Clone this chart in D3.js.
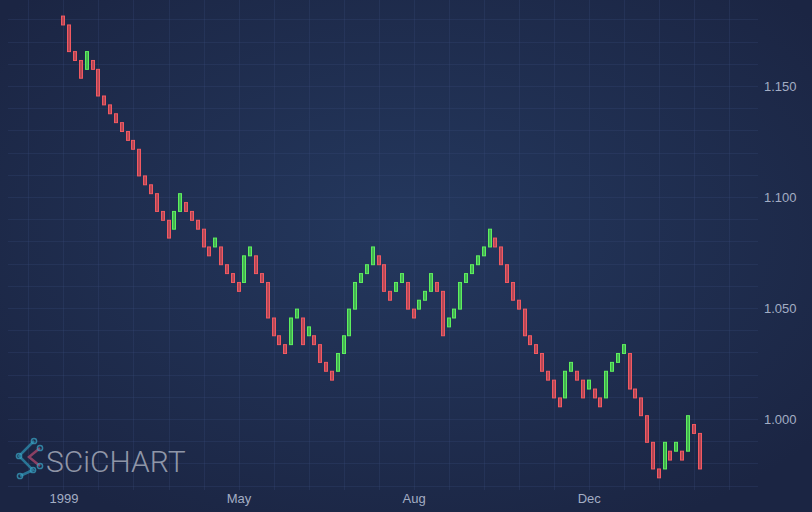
<!DOCTYPE html>
<html><head><meta charset="utf-8">
<script src="https://cdn.jsdelivr.net/npm/d3@7"></script>
<style>html,body{margin:0;padding:0;background:#1c2847;overflow:hidden}svg{display:block}</style>
</head><body>
<svg id="chart" width="812" height="512"></svg>
<script>
// ---- data ----
const opens = [1.1815,1.1775,1.1655,1.1615,1.1575,1.1615,1.1575,1.1455,1.1415,1.1375,
1.1335,1.1295,1.1255,1.1215,1.1095,1.1055,1.1015,1.0935,1.0895,1.0855,
1.0935,1.0975,1.0935,1.0895,1.0855,1.0775,1.0775,1.0775,1.0695,1.0655,
1.0615,1.0615,1.0735,1.0735,1.0655,1.0615,1.0455,1.0375,1.0335,1.0335,
1.0455,1.0455,1.0375,1.0375,1.0335,1.0255,1.0215,1.0215,1.0295,1.0375,
1.0495,1.0615,1.0655,1.0695,1.0735,1.0695,1.0575,1.0575,1.0615,1.0615,
1.0495,1.0495,1.0535,1.0575,1.0615,1.0575,1.0415,1.0455,1.0495,1.0615,
1.0655,1.0695,1.0735,1.0775,1.0815,1.0775,1.0695,1.0615,1.0535,1.0495,
1.0375,1.0335,1.0295,1.0215,1.0175,1.0095,1.0095,1.0215,1.0215,1.0175,
1.0135,1.0135,1.0095,1.0095,1.0215,1.0255,1.0295,1.0295,1.0135,1.0095,
1.0015,0.9895,0.9775,0.9775,0.9855,0.9855,0.9855,0.9855,0.9975,0.9935];
const closes = [1.1775,1.1655,1.1615,1.1535,1.1655,1.1575,1.1455,1.1415,1.1375,1.1335,
1.1295,1.1255,1.1215,1.1095,1.1055,1.1015,1.0935,1.0895,1.0815,1.0935,
1.1015,1.0935,1.0895,1.0855,1.0775,1.0735,1.0815,1.0695,1.0655,1.0615,
1.0575,1.0735,1.0775,1.0655,1.0615,1.0455,1.0375,1.0335,1.0295,1.0455,
1.0495,1.0335,1.0415,1.0335,1.0255,1.0215,1.0175,1.0295,1.0375,1.0495,
1.0615,1.0655,1.0695,1.0775,1.0695,1.0575,1.0535,1.0615,1.0655,1.0495,
1.0455,1.0535,1.0575,1.0655,1.0575,1.0375,1.0455,1.0495,1.0615,1.0655,
1.0695,1.0735,1.0775,1.0855,1.0775,1.0695,1.0615,1.0535,1.0495,1.0375,
1.0335,1.0295,1.0215,1.0175,1.0095,1.0055,1.0215,1.0255,1.0175,1.0095,
1.0175,1.0095,1.0055,1.0215,1.0255,1.0295,1.0335,1.0135,1.0095,1.0015,
0.9895,0.9775,0.9735,0.9895,0.9815,0.9895,0.9815,1.0015,0.9935,0.9775];
const xTickIndex = [0, 30, 60, 90];
const xTickLabels = ["1999", "May", "Aug", "Dec"];
const yTickValues = [1.000, 1.050, 1.100, 1.150];

// ---- layout ----
const W = 812, H = 512;
const plot = {left: 8, right: 758, top: 0, bottom: 490};
const svg = d3.select("#chart");

const defs = svg.append("defs");
const rg = defs.append("radialGradient").attr("id","bg")
  .attr("cx","50%").attr("cy","45%").attr("r","65%");
rg.append("stop").attr("offset","0%").attr("stop-color","#24385e");
rg.append("stop").attr("offset","100%").attr("stop-color","#1b2543");
defs.append("clipPath").attr("id","clip").append("rect")
  .attr("x",plot.left).attr("y",plot.top)
  .attr("width",plot.right-plot.left).attr("height",plot.bottom-plot.top);

svg.append("rect").attr("width",W).attr("height",H).attr("fill","url(#bg)");

const x = d3.scaleLinear().domain([-9.5, 119]).range([plot.left, plot.right]);
const y = d3.scaleLinear().domain([1.000, 1.150]).range([419, 86]);

// ---- grid ----
const grid = svg.append("g").attr("clip-path","url(#clip)");
const yMinor = d3.range(0.97, 1.19, 0.01).map(v => +v.toFixed(3));
grid.selectAll("line.hy").data(yMinor).join("line")
  .attr("x1",plot.left).attr("x2",plot.right)
  .attr("y1",d=>Math.round(y(d))+0.5).attr("y2",d=>Math.round(y(d))+0.5)
  .attr("stroke","#3a4d7a").attr("stroke-opacity",0.28).attr("stroke-width",1);
const xMinor = d3.range(-6, 120, 6);
grid.selectAll("line.vx").data(xMinor).join("line")
  .attr("y1",plot.top).attr("y2",plot.bottom)
  .attr("x1",d=>Math.round(x(d))+0.5).attr("x2",d=>Math.round(x(d))+0.5)
  .attr("stroke","#3a4d7a").attr("stroke-opacity",0.28).attr("stroke-width",1);

// ---- watermark ----
const wm = svg.append("g");
wm.append("polyline").attr("points","34,441 19,456 33,470 20,476")
  .attr("fill","none").attr("stroke","#2f8fb0").attr("stroke-width",2.5).attr("opacity",0.75);
wm.append("polyline").attr("points","40,448 29,457 40,466")
  .attr("fill","none").attr("stroke","#b04a6e").attr("stroke-width",2.5).attr("opacity",0.75);
[[34,441],[19,456],[33,470],[20,476],[40,448],[40,466]].forEach(p=>{
  wm.append("circle").attr("cx",p[0]).attr("cy",p[1]).attr("r",2.6)
    .attr("fill","none").attr("stroke","#3aa0c0").attr("stroke-width",1.5).attr("opacity",0.75);
});
wm.append("text").attr("x",46).attr("y",472).text("SCiCHART")
  .attr("font-family","Roboto, 'Liberation Sans', Arial, sans-serif")
  .attr("font-size",30).attr("font-weight",300)
  .attr("fill","#c4c8d4").attr("fill-opacity",0.7);

// ---- bars ----
const data = opens.map((o,i)=>({i, o, c: closes[i]}));
const bw = 3;
svg.append("g").attr("clip-path","url(#clip)")
  .selectAll("rect").data(data).join("rect")
  .attr("x", d => Math.round(x(d.i)) - bw/2)
  .attr("y", d => y(Math.max(d.o,d.c)))
  .attr("width", bw)
  .attr("height", d => Math.abs(y(d.o)-y(d.c)))
  .attr("fill", d => d.c > d.o ? "rgba(80,230,80,0.72)" : "rgba(240,80,88,0.72)")
  .attr("stroke", d => d.c > d.o ? "#5ef05e" : "#f25a62")
  .attr("stroke-width", 1);

// ---- axes ----
const yAxis = d3.axisRight(y).tickValues(yTickValues).tickFormat(d3.format(".3f")).tickSize(0).tickPadding(0);
const gy = svg.append("g").attr("transform","translate(764,0)").call(yAxis);
const xAxis = d3.axisBottom(x).tickValues(xTickIndex)
  .tickFormat((d,k)=>xTickLabels[k]).tickSize(0).tickPadding(0);
const gx = svg.append("g").attr("transform","translate(0,494)").call(xAxis);
[gy,gx].forEach(g=>{
  g.select(".domain").remove();
  g.selectAll("text").attr("fill","#a3adc4").attr("font-size",13)
    .attr("font-family","'Liberation Sans', Arial, sans-serif");
});
gy.selectAll("text").attr("dy","0.35em");
</script>
</body></html>
